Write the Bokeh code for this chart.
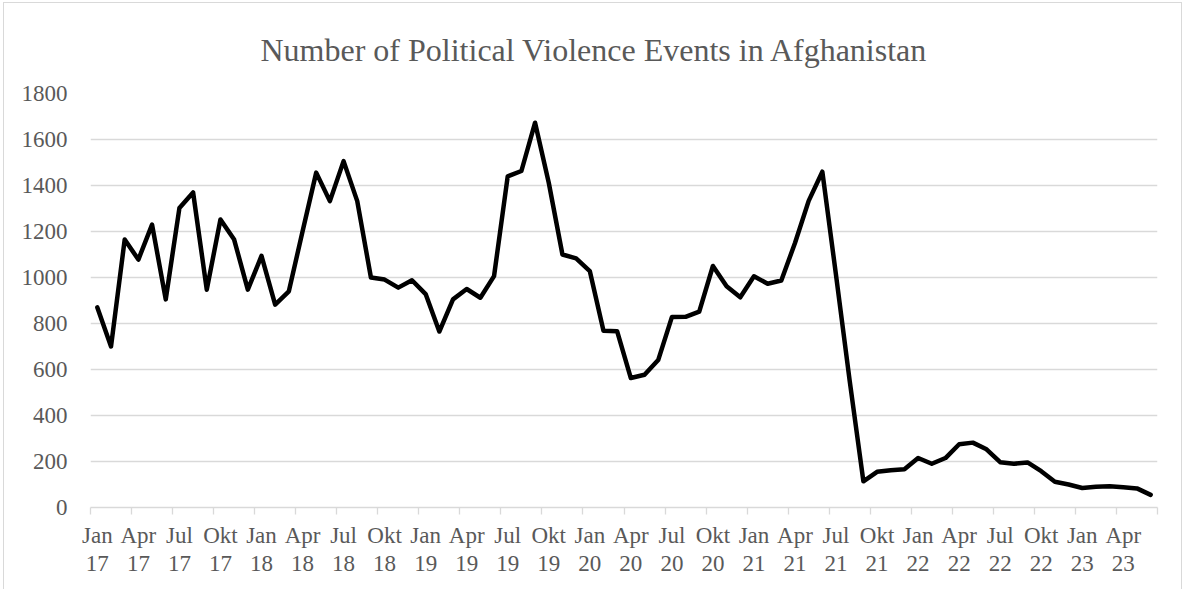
from bokeh.plotting import figure
from bokeh.models import FixedTicker, Range1d
from bokeh.embed import file_html
from bokeh.resources import INLINE

# Monthly counts, Jan 2017 - Jun 2023
months = ["Jan", "Feb", "Mär", "Apr", "Mai", "Jun", "Jul", "Aug", "Sep", "Okt", "Nov", "Dez"]
years = ["17", "18", "19", "20", "21", "22", "23"]

events_2017 = [870, 700, 1165, 1078, 1230, 905, 1302, 1370, 947, 1252, 1165, 947]
events_2018 = [1094, 882, 940, 1200, 1456, 1332, 1506, 1332, 1000, 991, 956, 988]
events_2019 = [928, 765, 905, 950, 912, 1006, 1440, 1463, 1673, 1412, 1100, 1083]
events_2020 = [1028, 768, 766, 563, 577, 641, 828, 829, 852, 1050, 962, 914]
events_2021 = [1005, 973, 987, 1150, 1333, 1460, 1010, 550, 114, 155, 162, 166]
events_2022 = [215, 190, 215, 275, 282, 253, 197, 190, 196, 158, 112, 100]
events_2023 = [85, 90, 92, 88, 83, 55]

y_ticks = [0, 200, 400, 600, 800, 1000, 1200, 1400, 1600, 1800]

events = (events_2017 + events_2018 + events_2019 + events_2020
          + events_2021 + events_2022 + events_2023)
labels = []
for y in years:
    for m in months:
        labels.append(f"{m}\n{y}")
labels = labels[:len(events)]
x = list(range(len(events)))

FONT = "Liberation Serif"
TEXT = "#595959"
GRID = "#d9d9d9"

p = figure(
    width=1179, height=587,
    output_backend="svg", toolbar_location=None,
    x_range=Range1d(-0.5, len(events) - 0.5),
    y_range=Range1d(y_ticks[0], y_ticks[-1]),
    min_border_left=86, min_border_right=26,
    min_border_top=90, min_border_bottom=83,
    title="Number of Political Violence Events in Afghanistan",
)
p.margin = (2, 0, 0, 3)
p.styles = {"border-top": "1px solid #d9d9d9",
            "border-left": "1px solid #d9d9d9",
            "border-right": "1px solid #d9d9d9"}
p.outline_line_color = None
p.background_fill_color = "white"
p.border_fill_color = "white"

# title centred on the whole chart area rather than on the plot frame
p.title.align = "left"
p.title.offset = 170
p.title.vertical_align = "top"
p.title.text_font = FONT
p.title.text_font_size = "32px"
p.title.text_font_style = "normal"
p.title.text_color = TEXT
p.title.standoff = 47

# quarterly labels at the month points, tick marks between quarters
label_idx = list(range(0, len(events), 3))
p.xaxis.ticker = FixedTicker(ticks=label_idx,
                             minor_ticks=[i - 0.5 for i in label_idx] + [len(events) - 0.5])
p.xaxis.major_label_overrides = {i: labels[i] for i in label_idx}
p.xaxis.axis_line_color = GRID
p.xaxis.axis_line_width = 1.3
p.xaxis.major_tick_line_color = None
p.xaxis.minor_tick_line_color = GRID
p.xaxis.minor_tick_line_width = 1.3
p.xaxis.minor_tick_out = 7
p.xaxis.minor_tick_in = 0
p.xaxis.major_label_standoff = 8
p.xaxis.major_label_text_font = FONT
p.xaxis.major_label_text_font_size = "23px"
p.xaxis.major_label_text_line_height = 1.12
p.xaxis.major_label_text_color = TEXT
p.xgrid.visible = False

p.yaxis.ticker = FixedTicker(ticks=y_ticks)
p.yaxis.axis_line_color = None
p.yaxis.major_tick_line_color = None
p.yaxis.minor_tick_line_color = None
p.yaxis.major_label_standoff = 17
p.yaxis.major_label_text_font = FONT
p.yaxis.major_label_text_font_size = "23px"
p.yaxis.major_label_text_color = TEXT
p.ygrid.grid_line_color = GRID
p.ygrid.grid_line_width = 1.3

p.line(x, events, line_color="black", line_width=4.5,
       line_join="round", line_cap="round")

open("out.html", "w").write(file_html(p, INLINE))
